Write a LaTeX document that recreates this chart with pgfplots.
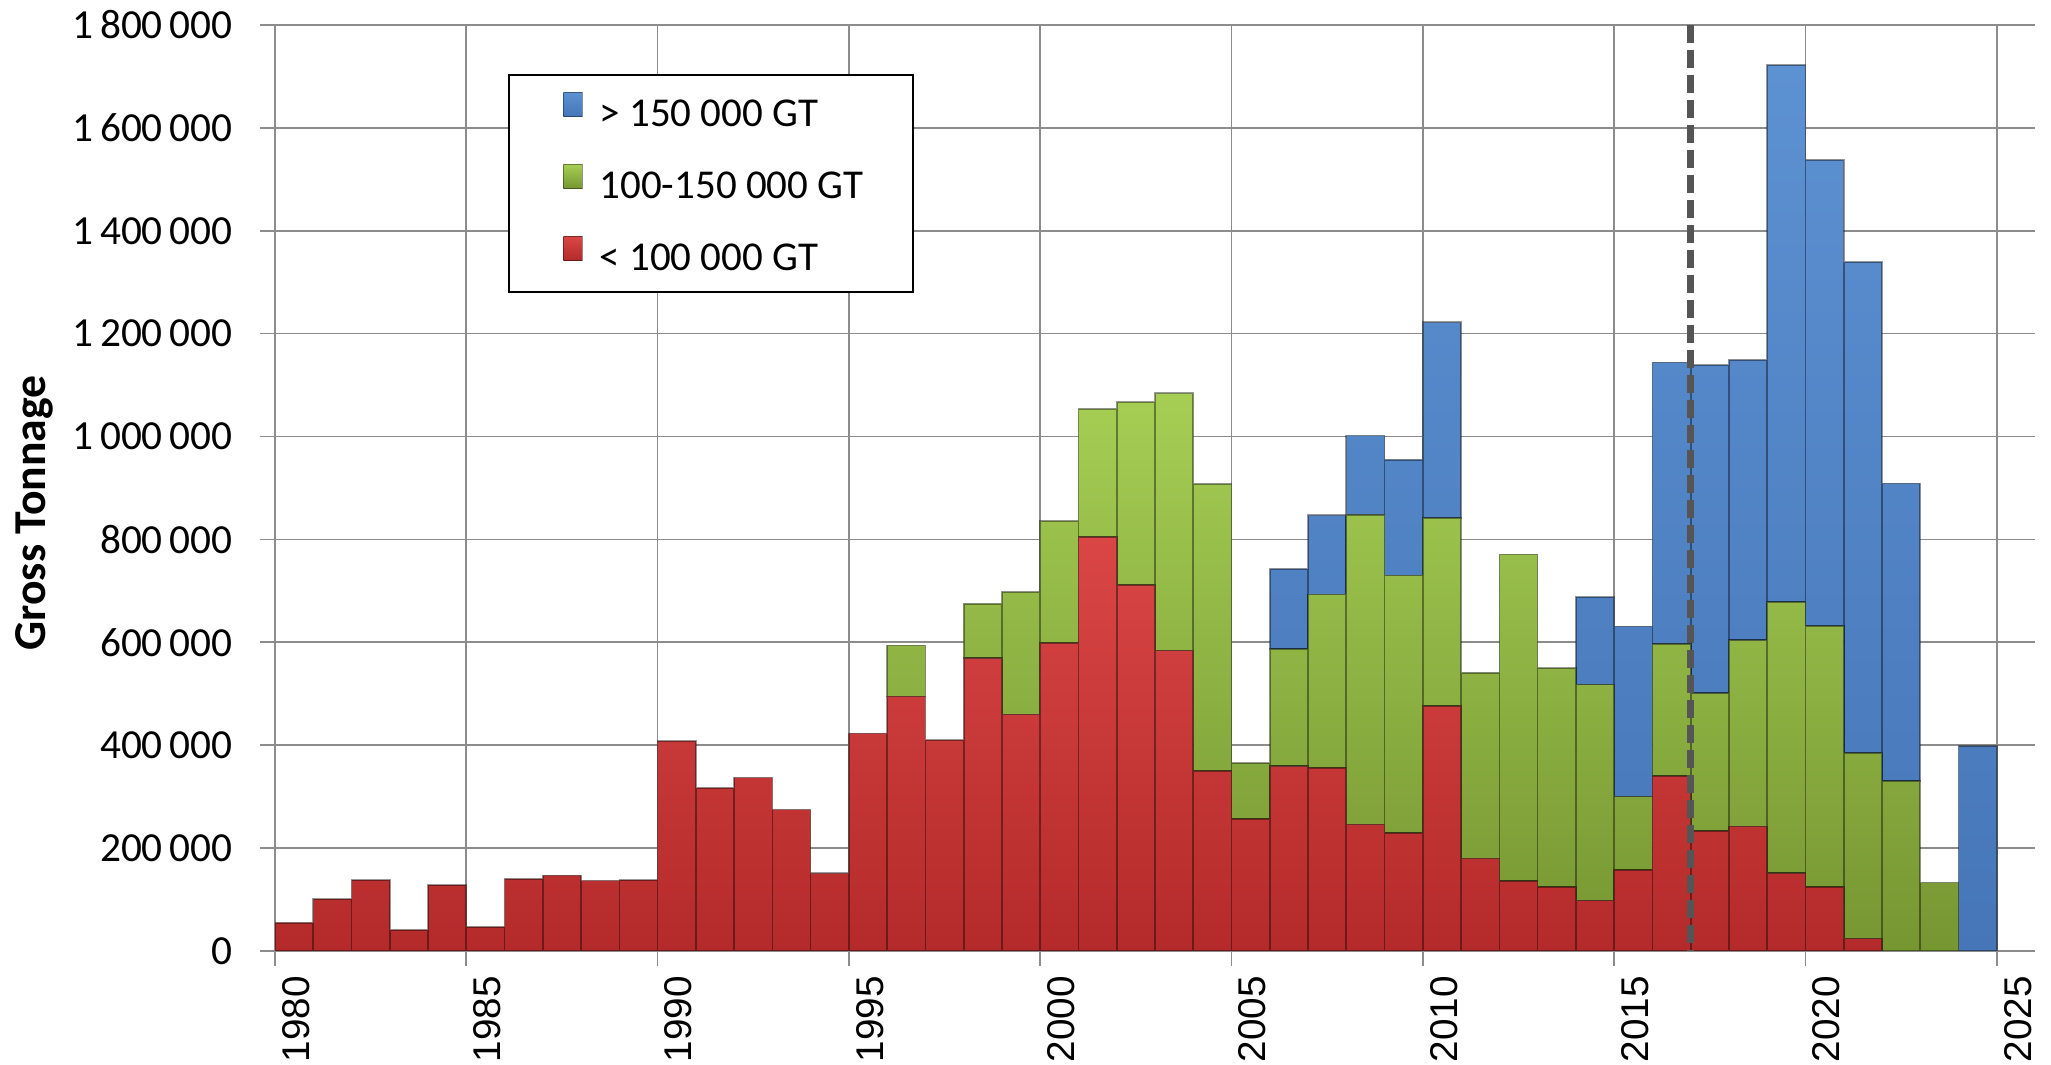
\documentclass[border=0pt]{standalone}
\usepackage{pgfplots}
\usepackage{pgfplotstable}
\pgfplotsset{compat=1.18}
\usepackage{fontspec}
\setmainfont{Carlito}
\newfontfamily\arialfont{Liberation Sans}
\definecolor{gridgray}{RGB}{140,140,140}
\definecolor{redtop}{RGB}{218,70,70}
\definecolor{redbot}{RGB}{180,42,42}
\definecolor{greentop}{RGB}{166,206,84}
\definecolor{greenbot}{RGB}{118,150,50}
\definecolor{bluetop}{RGB}{92,145,210}
\definecolor{bluebot}{RGB}{70,118,184}
\definecolor{dashgray}{RGB}{85,85,85}

% values in thousands of GT, bars centred at year+0.5
\pgfplotstableread{
x red green blue
1980.5 55 0 0
1981.5 101 0 0
1982.5 138 0 0
1983.5 41 0 0
1984.5 128 0 0
1985.5 47 0 0
1986.5 140 0 0
1987.5 147 0 0
1988.5 137 0 0
1989.5 138 0 0
1990.5 408 0 0
1991.5 317 0 0
1992.5 337 0 0
1993.5 275 0 0
1994.5 151 0 0
1995.5 423 0 0
1996.5 495 99 0
1997.5 410 0 0
1998.5 569 106 0
1999.5 460 238 0
2000.5 599 237 0
2001.5 805 249 0
2002.5 711 356 0
2003.5 584 500 0
2004.5 350 558 0
2005.5 257 108 0
2006.5 359 228 156
2007.5 356 337 154
2008.5 246 602 154
2009.5 229 501 225
2010.5 476 366 380
2011.5 180 361 0
2012.5 136 635 0
2013.5 124 426 0
2014.5 98 420 170
2015.5 157 143 331
2016.5 340 257 547
2017.5 233 268 638
2018.5 242 362 545
2019.5 151 527 1044
2020.5 124 508 906
2021.5 24 361 954
2022.5 0 330 579
2023.5 0 133 0
2024.5 0 0 398
}\data

\newcommand{\legtext}[1]{\makebox[93.9pt][l]{#1}}

\begin{document}
\begin{tikzpicture}
\begin{axis}[
  name=ax,
  scale only axis, width=528pt, height=277.8pt,
  xmin=1980, xmax=2026, ymin=0, ymax=1800,
  enlargelimits=false,
  ybar stacked, bar width=1,
  axis lines*=left,
  axis line style={gridgray, line width=0.5pt},
  grid=major, grid style={gridgray, line width=0.5pt},
  xtick={1980,1985,...,2025},
  xticklabels={1980,1985,1990,1995,2000,2005,2010,2015,2020,2025},
  ytick={0,200,...,1800},
  yticklabels={0,200\,000,400\,000,600\,000,800\,000,1\,000\,000,1\,200\,000,1\,400\,000,1\,600\,000,1\,800\,000},
  scaled y ticks=false,
  tick align=outside, major tick length=4.5pt,
  tick style={gridgray, line width=0.5pt},
  yticklabel style={font=\fontsize{12.4}{15}\selectfont, anchor=east, inner sep=0pt, xshift=-8pt},
  xticklabel style={font=\arialfont\fontsize{11.6}{13}\selectfont, xshift=6.3pt, yshift=-2.8pt, rotate=90, anchor=east, inner sep=0pt},
  every axis y label/.style={at={(axis description cs:0,0.473)}, xshift=-72.3pt, rotate=90, anchor=center, font=\fontsize{13.7}{16}\selectfont\bfseries},
  ylabel={Gross Tonnage},
  reverse legend,
  legend style={at={(axis description cs:0.1324,0.947)}, anchor=north west,
    draw=black, line width=0.6pt, fill=white,
    inner xsep=0pt, inner ysep=5pt, row sep=9.6pt,
    font=\fontsize{12.3}{14}\selectfont,
    nodes={inner sep=0pt},
    /tikz/every odd column/.append style={column sep=5pt},
    /tikz/every even column/.append style={text height=7.7pt, text depth=0pt}},
  legend cell align=left,
  legend image code/.code={\path (-16.1pt,0pt); \draw[#1, line width=0.4pt] (0pt,0pt) rectangle (5.6pt,7.2pt);},
]
\addplot[top color=redtop, bottom color=redbot, draw=black, draw opacity=0.4, line width=0.5pt] table[x=x, y=red] {\data};
\addlegendentry{\legtext{< 100 000 GT}}
\addplot[top color=greentop, bottom color=greenbot, draw=black, draw opacity=0.4, line width=0.5pt] table[x=x, y=green] {\data};
\addlegendentry{\legtext{100-150 000 GT}}
\addplot[top color=bluetop, bottom color=bluebot, draw=black, draw opacity=0.4, line width=0.5pt] table[x=x, y=blue] {\data};
\addlegendentry{\legtext{> 150 000 GT}}
\end{axis}
% overlay axis for the dashed reference line, drawn on top of the bars
\begin{axis}[
  at={(ax.south west)}, anchor=south west,
  scale only axis, width=528pt, height=277.8pt,
  xmin=1980, xmax=2026, ymin=0, ymax=1800,
  enlargelimits=false, axis lines=none,
]
\addplot[dashgray, line width=2.1pt, dash pattern=on 5.5pt off 2pt, mark=none] coordinates {(2017,1800) (2017,0)};
\end{axis}
\pgfresetboundingbox
\path ([xshift=-82.5pt,yshift=-34.2pt]ax.south west) rectangle ([xshift=4.8pt,yshift=7.5pt]ax.north east);
\end{tikzpicture}
\end{document}
